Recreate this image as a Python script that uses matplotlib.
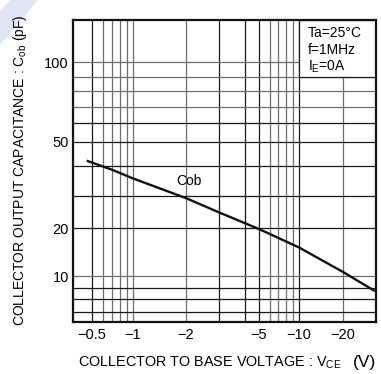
import numpy as np
import matplotlib
matplotlib.use("Agg")
import matplotlib.pyplot as plt
from matplotlib.patches import Rectangle, Polygon
from matplotlib.ticker import FixedLocator, NullLocator

plt.rcParams['font.family'] = ['Liberation Sans', 'DejaVu Sans']
plt.rcParams['mathtext.default'] = 'regular'

# ---- data (magnitude of V_CB in volts, capacitance in pF) ----
vcb = [0.46, 0.71, 1.0, 2.0, 3.0, 5.0, 8.6, 10.0, 20.0, 33.0]
cob = [41.9, 38.4, 35.4, 29.1, 24.4, 19.7, 16.0, 15.1, 10.6, 8.7]

x_ticks = [0.5, 1, 2, 5, 10, 20]
x_tick_labels = ["\u22120.5", "\u22121", "\u22122", "\u22125", "\u221210", "\u221220"]
y_ticks = [10, 20, 50, 100]
y_tick_labels = ["10", "20", "50", "100"]

x_grid_dark = [0.5, 3, 4, 5, 10]
x_grid_light = [0.6, 0.7, 0.8, 0.9, 1, 2, 6, 7, 8, 9, 20]
y_grid_dark = [60, 50, 40, 30, 20, 9, 8, 7]
y_grid_light = [100, 90, 80, 70, 10]

cond_lines = ["Ta=25\u00b0C", "f=1MHz", "I$_{E}$=0A"]

# ---- hand-drawn (warped) log scales of the original datasheet ----
X_WARP_VALS = [0.365, 0.5, 1, 2, 3, 4, 5, 10, 20, 33.4]
X_WARP_PIX = [73, 91.7, 133, 186, 218.5, 245, 259, 299, 343, 375.6]
Y_WARP_VALS = [6, 7, 8, 9, 10, 20, 30, 40, 50, 60, 70, 80, 90, 100, 145]
Y_WARP_PIX = [322.3, 311.7, 299.3, 287.7, 276, 228, 195.7, 165.7, 141.7,
              122.7, 106.7, 91, 76.7, 62.3, 20]

X0, X1 = 73.0, 375.6
Y0, Y1 = 322.3, 20.0
W, H = 381, 374


def make_warp(vals, fracs):
    lv = np.log10(np.asarray(vals, float))
    fr = np.asarray(fracs, float)

    def fwd(v):
        v = np.asarray(v, float)
        l = np.log10(np.clip(v, 1e-9, None))
        return np.interp(l, lv, fr)

    def inv(f):
        f = np.asarray(f, float)
        return 10 ** np.interp(f, fr, lv)
    return fwd, inv


xfr = [(p - X0) / (X1 - X0) for p in X_WARP_PIX]
yfr = [(Y0 - p) / (Y0 - Y1) for p in Y_WARP_PIX]

fig = plt.figure(figsize=(W / 100, H / 100), dpi=100)
ax = fig.add_axes([X0 / W, (H - Y0) / H, (X1 - X0) / W, (Y0 - Y1) / H])
ax.set_xscale('function', functions=make_warp(X_WARP_VALS, xfr))
ax.set_yscale('function', functions=make_warp(Y_WARP_VALS, yfr))
ax.set_xlim(X_WARP_VALS[0], X_WARP_VALS[-1])
ax.set_ylim(Y_WARP_VALS[0], Y_WARP_VALS[-1])

for v in x_grid_light:
    ax.axvline(v, color='#6e6e6e', lw=0.9, zorder=1)
for v in x_grid_dark:
    ax.axvline(v, color='#1a1a1a', lw=0.9, zorder=1)
for v in y_grid_light:
    ax.axhline(v, color='#6e6e6e', lw=0.9, zorder=1)
for v in y_grid_dark:
    ax.axhline(v, color='#1a1a1a', lw=0.9, zorder=1)

# condition box (top right)
ax.add_patch(Rectangle((10, 90), X_WARP_VALS[-1] - 10, Y_WARP_VALS[-1] - 90,
                       facecolor='white', edgecolor='#1a1a1a', lw=0.9, zorder=2))
for i, t in enumerate(cond_lines):
    ax.text(0.777, 0.957 - i * 0.056, t, transform=ax.transAxes,
            fontsize=10, ha='left', va='center', zorder=3)

ax.plot(vcb, cob, color='#111111', lw=1.7, zorder=4, solid_capstyle='butt',
        solid_joinstyle='round')
ax.text(0.383, 0.467, "Cob", transform=ax.transAxes, fontsize=10,
        ha='center', va='center', zorder=5)

ax.xaxis.set_major_locator(FixedLocator(x_ticks))
ax.yaxis.set_major_locator(FixedLocator(y_ticks))
ax.xaxis.set_minor_locator(NullLocator())
ax.yaxis.set_minor_locator(NullLocator())
ax.set_xticklabels(x_tick_labels, family=['Liberation Sans Narrow', 'Liberation Sans'], fontsize=10.5)
ax.set_yticklabels(y_tick_labels, family=['Liberation Sans Narrow', 'Liberation Sans'], fontsize=10.5)
ax.tick_params(length=0, pad=3)
ax.tick_params(axis='x', pad=4)

for s in ax.spines.values():
    s.set_linewidth(1.6)
    s.set_color('#111111')
    s.set_zorder(6)

fig.text(78 / W, 1 - 363 / H, "COLLECTOR TO BASE VOLTAGE : V$_{CE}$",
         fontsize=10.4, ha='left', va='center')
fig.text(376 / W, 1 - 362 / H, "(V)", fontsize=12.5, ha='right', va='center')
fig.text(20 / W, 1 - 170 / H, "COLLECTOR OUTPUT CAPACITANCE : C$_{ob}$ (pF)",
         fontsize=10, rotation=90, ha='center', va='center')

# light blue watermark stripe in the top-left corner
fig.patches.append(Polygon([(10 / W, 1), (38 / W, 1), (0, 1 - 45 / H), (0, 1 - 12 / H)],
                           closed=True, transform=fig.transFigure,
                           facecolor='#dfe7f6', edgecolor='none', zorder=0))

fig.savefig("out.png", dpi=100)
